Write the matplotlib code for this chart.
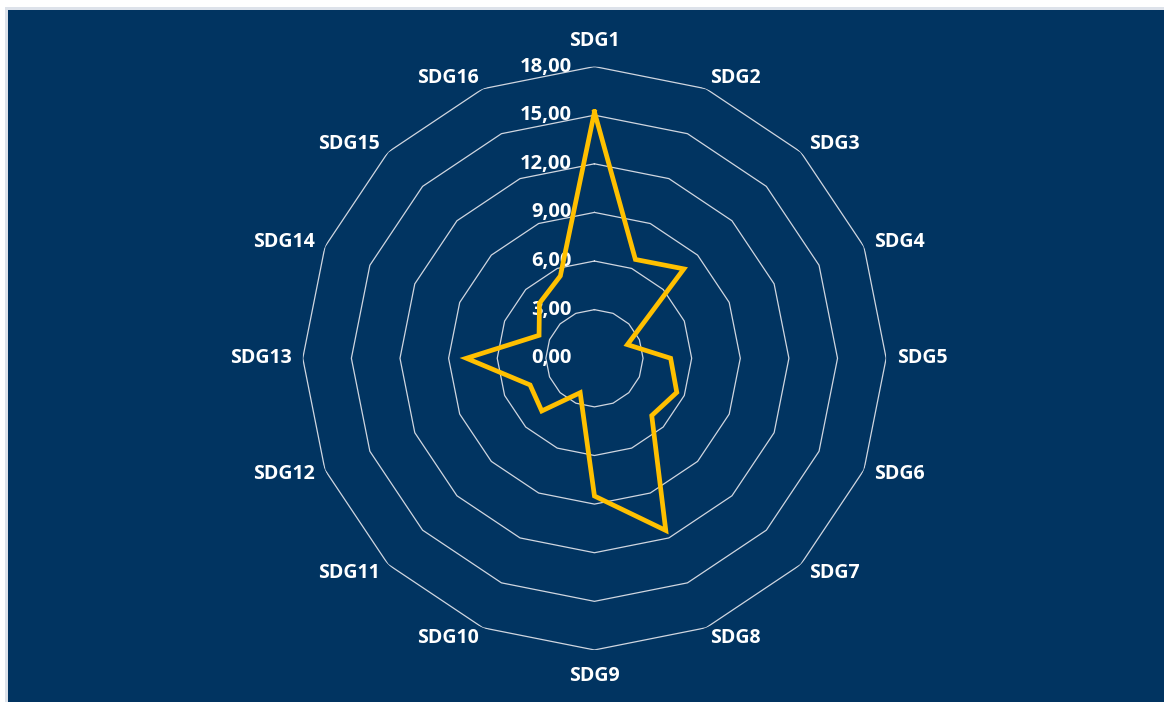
import numpy as np
import matplotlib
matplotlib.use('Agg')
import matplotlib.pyplot as plt
from matplotlib.patches import Rectangle

categories = ['SDG%d' % i for i in range(1, 17)]
values = [15.2, 6.6, 7.8, 2.2, 4.7, 5.5, 5.0, 11.5,
          8.5, 2.3, 4.6, 4.3, 7.9, 3.7, 4.8, 5.5]
rings = [3, 6, 9, 12, 15, 18]
ring_labels = ['0,00', '3,00', '6,00', '9,00', '12,00', '15,00', '18,00']

bg = '#013461'
font = 'Open Sans'

fig = plt.figure(figsize=(11.64, 7.02), dpi=100)
fig.patch.set_facecolor('white')
# light frame + dark panel
fig.patches.append(Rectangle((5 / 1164, 0), 1, 1 - 7 / 702, transform=fig.transFigure,
                             facecolor='#dde2ea', edgecolor='none', zorder=-10))
fig.patches.append(Rectangle((8 / 1164, 0), 1, 1 - 10 / 702, transform=fig.transFigure,
                             facecolor=bg, edgecolor='none', zorder=-9))

ax = fig.add_axes([0.2601, 0.0741, 0.5012, 0.8311], projection='polar')
ax.set_zorder(5)
ax.patch.set_visible(False)
ax.set_theta_zero_location('N')
ax.set_theta_direction(-1)
ax.set_ylim(0, 18)
ax.grid(False)
ax.spines['polar'].set_visible(False)
ax.set_xticks([])
ax.set_yticks([])

n = len(categories)
theta = np.arange(n) * 2 * np.pi / n
theta_c = np.append(theta, theta[0])

# polygon grid
for r in rings:
    ax.plot(theta_c, [r] * (n + 1), color='#d0d6e0', lw=0.9, zorder=1)

# value ring labels along the first axis
for i, lab in enumerate(ring_labels):
    ax.annotate(lab, xy=(0, i * 3), xytext=(-16.5, 0), textcoords='offset points',
                ha='right', va='center', color='white', fontsize=14.5,
                family=font, fontweight='bold', zorder=3)

# category labels: anchored on the side facing the chart
for t, lab in zip(theta, categories):
    s = np.sin(t)
    if abs(s) < 0.01:
        ha, r = 'center', 19.6
    else:
        ha, r = ('left' if s > 0 else 'right'), 18.7
    ax.text(t, r, lab, ha=ha, va='center', color='white',
            fontsize=14, family=font, fontweight='bold')

vals_c = np.append(values, values[0])
ax.plot(theta_c, vals_c, color='#ffc000', lw=3.4, solid_joinstyle='miter', zorder=4)

fig.savefig('out.png', dpi=100, facecolor=fig.get_facecolor())
